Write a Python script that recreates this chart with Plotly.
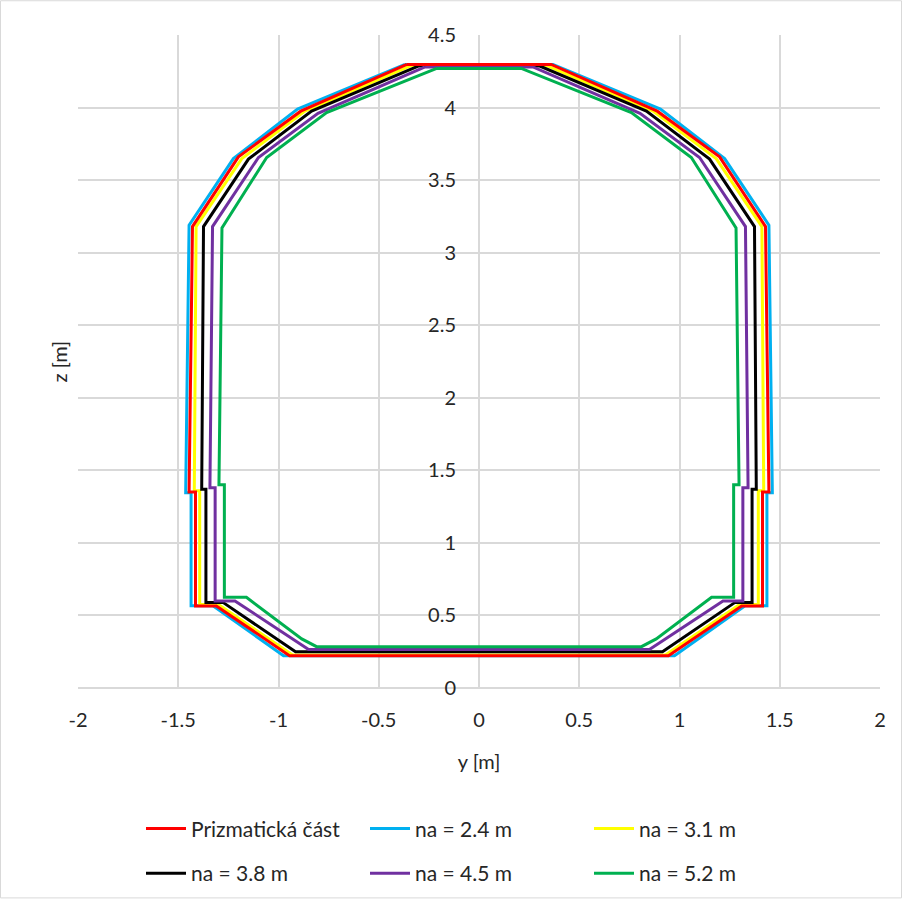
import plotly.graph_objects as go

# ---- data ----
series_names = ["Prizmatická část", "na = 2.4 m", "na = 3.1 m", "na = 3.8 m", "na = 4.5 m", "na = 5.2 m"]
series_colors = ["#FF0000", "#00B0F0", "#FFFF00", "#000000", "#7030A0", "#00B050"]

y_prizm = [-0.36, -0.889, -1.20, -1.429, -1.446, -1.414, -1.414, -1.31, -0.945,
           0.945, 1.31, 1.414, 1.414, 1.446, 1.429, 1.20, 0.889, 0.36, -0.36]
z_prizm = [4.297, 3.975, 3.66, 3.18, 1.35, 1.35, 0.565, 0.565, 0.223,
           0.223, 0.565, 0.565, 1.35, 1.35, 3.18, 3.66, 3.975, 4.297, 4.297]

y_na24 = [-0.369, -0.905, -1.225, -1.446, -1.463, -1.436, -1.436, -1.327, -0.975,
          0.975, 1.327, 1.436, 1.436, 1.463, 1.446, 1.225, 0.905, 0.369, -0.369]
z_na24 = [4.297, 3.99, 3.648, 3.19, 1.345, 1.345, 0.567, 0.567, 0.222,
          0.222, 0.567, 0.567, 1.345, 1.345, 3.19, 3.648, 3.99, 4.297, 4.297]

y_na31 = [-0.336, -0.868, -1.183, -1.411, -1.42, -1.393, -1.393, -1.30, -0.93,
          0.93, 1.30, 1.393, 1.393, 1.42, 1.411, 1.183, 0.868, 0.336, -0.336]
z_na31 = [4.29, 3.976, 3.648, 3.18, 1.36, 1.36, 0.575, 0.575, 0.228,
          0.228, 0.575, 0.575, 1.36, 1.36, 3.18, 3.648, 3.976, 4.29, 4.29]

y_na38 = [-0.303, -0.835, -1.15, -1.374, -1.383, -1.362, -1.362, -1.277, -0.915,
          0.915, 1.277, 1.362, 1.362, 1.383, 1.374, 1.15, 0.835, 0.303, -0.303]
z_na38 = [4.286, 3.976, 3.645, 3.18, 1.37, 1.37, 0.59, 0.59, 0.25,
          0.25, 0.59, 0.59, 1.37, 1.37, 3.18, 3.645, 3.976, 4.286, 4.286]

y_na45 = [-0.269, -0.803, -1.10, -1.329, -1.342, -1.316, -1.316, -1.217, -0.85,
          0.85, 1.217, 1.316, 1.316, 1.342, 1.329, 1.10, 0.803, 0.269, -0.269]
z_na45 = [4.28, 3.96, 3.656, 3.18, 1.38, 1.38, 0.60, 0.60, 0.265,
          0.265, 0.60, 0.60, 1.38, 1.38, 3.18, 3.656, 3.96, 4.28, 4.28]

y_na52 = [-0.211, -0.76, -1.059, -1.282, -1.297, -1.27, -1.27, -1.16, -0.884, -0.81,
          0.81, 0.884, 1.16, 1.27, 1.27, 1.297, 1.282, 1.059, 0.76, 0.211, -0.211]
z_na52 = [4.27, 3.965, 3.656, 3.17, 1.40, 1.40, 0.625, 0.625, 0.338, 0.285,
          0.285, 0.338, 0.625, 0.625, 1.40, 1.40, 3.17, 3.656, 3.965, 4.27, 4.27]

x_tickvals = [-2, -1.5, -1, -0.5, 0, 0.5, 1, 1.5, 2]
x_ticktext = ["-2", "-1.5", "-1", "-0.5", "0", "0.5", "1", "1.5", "2"]
z_tickvals = [0, 0.5, 1, 1.5, 2, 2.5, 3, 3.5, 4, 4.5]
z_ticktext = ["0", "0.5", "1", "1.5", "2", "2.5", "3", "3.5", "4", "4.5"]

ys = [y_prizm, y_na24, y_na31, y_na38, y_na45, y_na52]
zs = [z_prizm, z_na24, z_na31, z_na38, z_na45, z_na52]

FONT = "Lato"
TXT = "#262626"

fig = go.Figure()
# draw order: coloured variants first, red (prismatic part) last so it sits on top
draw_order = [1, 2, 3, 4, 5, 0]
for i in draw_order:
    fig.add_trace(go.Scatter(
        x=ys[i], y=zs[i], mode="lines", name=series_names[i],
        line=dict(color=series_colors[i], width=3),
        legend="legend" if i < 3 else "legend2",
        legendrank=i + 1,
        hoverinfo="skip",
    ))

W, H = 903, 906
L, R, T, B = 78, 23, 35, 213
pw, ph = W - L - R, H - T - B
LEG1_PX, LEG2_PX = 835, 880  # vertical centres of the two legend rows
LEG_X_PX = 141

legend_style = dict(
    orientation="h", xanchor="left", yanchor="middle",
    entrywidth=169, entrywidthmode="pixels",
    font=dict(family=FONT, size=21, color=TXT),
    bgcolor="rgba(0,0,0,0)", itemwidth=40, traceorder="normal",
)

fig.update_layout(
    width=W, height=H, autosize=False,
    margin=dict(l=L, r=R, t=T, b=B),
    paper_bgcolor="white", plot_bgcolor="white",
    font=dict(family=FONT, size=20, color=TXT),
    showlegend=True,
    legend=dict(x=(LEG_X_PX - L) / pw, y=(T + ph - LEG1_PX) / ph, **legend_style),
    legend2=dict(x=(LEG_X_PX - L) / pw, y=(T + ph - LEG2_PX) / ph, **legend_style),
    xaxis=dict(
        range=[-2, 2], tickvals=x_tickvals, ticktext=x_ticktext,
        showgrid=True, gridcolor="#d9d9d9", gridwidth=1.5,
        zeroline=False, showline=False, ticks="", ticklabelstandoff=18,
        tickfont=dict(family=FONT, size=20, color=TXT),
        title=dict(text="y [m]", font=dict(family=FONT, size=20, color=TXT), standoff=24),
        fixedrange=True,
    ),
    yaxis=dict(
        range=[0, 4.5], tickvals=z_tickvals, ticktext=z_ticktext,
        anchor="free", position=0.5, side="left",
        showgrid=True, gridcolor="#d9d9d9", gridwidth=1.5,
        zeroline=True, zerolinecolor="#d9d9d9", zerolinewidth=1.5,
        showline=False, ticks="", ticklabelstandoff=23,
        tickfont=dict(family=FONT, size=20, color=TXT),
        fixedrange=True,
    ),
    annotations=[dict(
        text="z [m]", xref="paper", yref="paper",
        x=(58 - L) / pw, y=0.5, xanchor="center", yanchor="middle",
        textangle=-90, showarrow=False,
        font=dict(family=FONT, size=20, color=TXT),
    )],
    shapes=[dict(
        type="rect", xref="paper", yref="paper", layer="below",
        x0=(0.5 - L) / pw, x1=(W - 1.5 - L) / pw,
        y0=-(B - 1.5) / ph, y1=1 + (T - 0.5) / ph,
        line=dict(color="#d9d9d9", width=1), fillcolor="rgba(0,0,0,0)",
    )],
)

fig.write_html(
    "out.html",
    config={"displayModeBar": False, "responsive": False},
    post_script="document.body.style.margin='0';document.body.style.overflow='hidden';",
)
